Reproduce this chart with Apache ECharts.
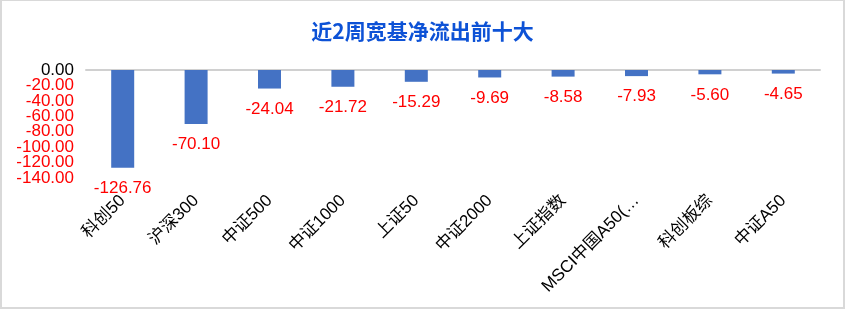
<!DOCTYPE html>
<html>
<head>
<meta charset="utf-8">
<script src="https://cdn.jsdelivr.net/npm/echarts@6/dist/echarts.min.js"></script>
<style>
html,body{margin:0;padding:0;background:#fff;}
#wrap{position:relative;width:845px;height:309px;}
#chart{position:absolute;left:0;top:0;width:845px;height:309px;}
#frame{position:absolute;left:0;top:0;width:845px;height:309px;box-sizing:border-box;border:2px solid #d9d9d9;border-top-width:1px;pointer-events:none;}
</style>
</head>
<body>
<div id="wrap"><div id="chart"></div><div id="frame"></div></div>
<script>
const titleText = '近2周宽基净流出前十大';
const categories = ['科创50','沪深300','中证500','中证1000','上证50','中证2000','上证指数','MSCI中国A50(…','科创板综','中证A50'];
const values = [-126.76,-70.10,-24.04,-21.72,-15.29,-9.69,-8.58,-7.93,-5.60,-4.65];
const yTicksA = [0,-40,-80,-120];
const yTicksB = [-20,-60,-100,-140];
const yMin = -140, yMax = 0;

const chart = echarts.init(document.getElementById('chart'));
const font = 'Liberation Sans, Arial, Noto Sans CJK SC, sans-serif';
const yLabel = ticks => ({
  type:'value',min:yMin,max:yMax,position:'left',
  axisLine:{show:false},axisTick:{show:false},splitLine:{show:false},
  axisLabel:{margin:12,fontSize:17,fontFamily:font,customValues:ticks,hideOverlap:false,
    formatter:v=>Number(v).toFixed(2),
    color:v=>Number(v)<0?'#FF0000':'#000'}
});
chart.setOption({
  animation:false,
  backgroundColor:'#fff',
  title:{text:titleText,left:'center',top:16,textStyle:{color:'#0D52D6',fontSize:21,fontWeight:'bold',fontFamily:'Noto Sans CJK SC, sans-serif'}},
  grid:{left:86,right:25,top:70,bottom:131,containLabel:false},
  xAxis:[{
    type:'category',data:categories,position:'bottom',
    axisLine:{show:false},axisTick:{show:false},
    axisLabel:{rotate:45,interval:0,margin:20,color:'#000',fontSize:17,fontFamily:font,hideOverlap:false}
  },{
    type:'category',data:categories,position:'top',
    axisLine:{show:true,lineStyle:{color:'#d0d0d0',width:2}},axisTick:{show:false},axisLabel:{show:false}
  }],
  yAxis:[yLabel(yTicksA), yLabel(yTicksB)],
  series:[{
    type:'bar',data:values,barWidth:23,xAxisIndex:0,yAxisIndex:0,
    itemStyle:{color:'#4472C4'},
    label:{show:true,position:'bottom',distance:12,color:'#FF0000',fontSize:17,fontFamily:font,
      formatter:p=>p.value.toFixed(2)}
  }]
});
</script>
</body>
</html>
